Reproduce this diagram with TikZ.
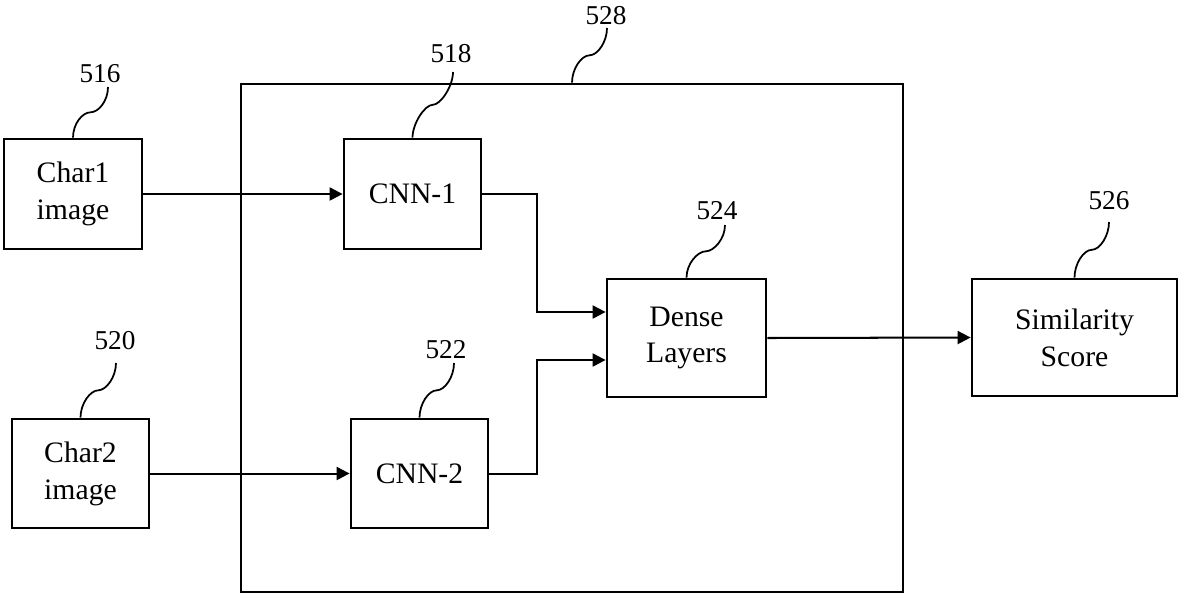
\documentclass[tikz,border=0pt]{standalone}
\usepackage{fontspec}
\setmainfont{Liberation Serif}
\usetikzlibrary{arrows.meta,calc}

\begin{document}
\begin{tikzpicture}[x=0.02cm,y=-0.02cm,
    blk/.style={draw,line width=1.6pt,align=center,inner sep=2pt,
      font=\fontsize{16.9}{21}\selectfont},
    link/.style={line width=1.15pt,-{Triangle[length=7.4pt,width=7.4pt]}},
    leader/.style={line width=1pt},
    num/.style={anchor=base,inner sep=0pt,font=\fontsize{15.5}{18}\selectfont}]
  \useasboundingbox (0,0) rectangle (1179,593);
  \node[blk,minimum width=13.24cm,minimum height=10.16cm] (net) at (572,338) {};
  \node[blk,minimum width=2.76cm,minimum height=2.2cm] (c1) at (73,194) {Char1\\image};
  \node[blk,minimum width=2.74cm,minimum height=2.18cm] (c2) at (80.5,473.5) {Char2\\image};
  \node[blk,minimum width=2.74cm,minimum height=2.2cm] (cnn1) at (412.5,194) {CNN-1};
  \node[blk,minimum width=2.74cm,minimum height=2.18cm] (cnn2) at (419.5,473.5) {CNN-2};
  \node[blk,minimum width=3.18cm,minimum height=2.36cm] (dense) at (686.5,338) {Dense\\Layers};
  \node[blk,minimum width=4.1cm,minimum height=2.34cm] (sim) at (1074.5,337.5) {Similarity\\Score};
  \coordinate (m1) at (537,312);
  \coordinate (m2) at (537,360);
  \draw[link] (c1.east) -- (cnn1.west);
  \draw[link] (c2.east) -- (cnn2.west);
  \draw[link] (cnn1.east) -| (m1) -- (m1 -| dense.west);
  \draw[link] (cnn2.east) -| (m2) -- (m2 -| dense.west);
  \draw[link] (dense.east) -- (sim.west);
  \foreach \n/\lx/\ly/\tx/\ty in {516/100/82/108/87,518/451/62/453/72,528/606/24/607/28,
      524/717/219/725/225,526/1109/209/1109/222,520/115/349/116/363,522/446/358/454/363}{
    \node[num] (l\n) at (\lx,\ly) {\n};
    \coordinate (t\n) at (\tx,\ty);}
  \foreach \b/\n in {c1/516,cnn1/518,net/528,dense/524,sim/526,c2/520,cnn2/522}
    \draw[leader] (\b.north) .. controls +(0,-14) and +(-8,0) .. ($(\b.north)!.5!(t\n)$)
      .. controls +(8,0) and +(0,14) .. (t\n);
\end{tikzpicture}
\end{document}
